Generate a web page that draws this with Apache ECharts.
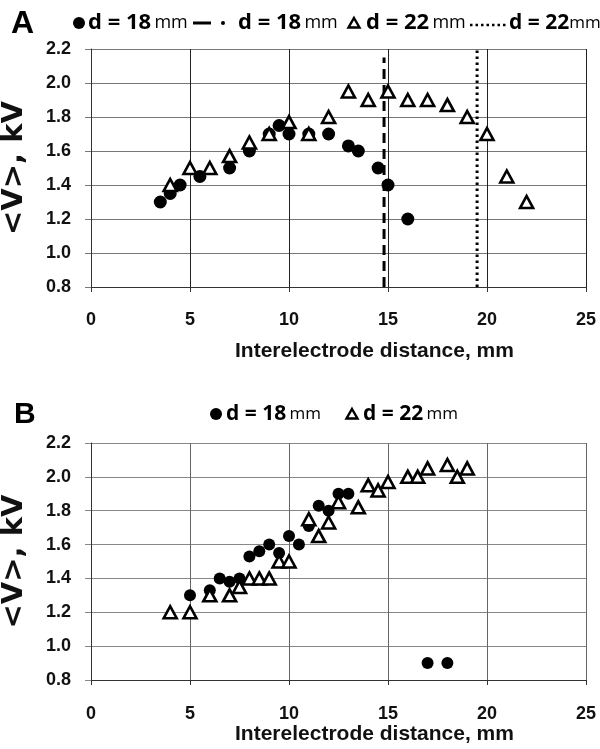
<!DOCTYPE html>
<html>
<head>
<meta charset="utf-8">
<script src="https://cdn.jsdelivr.net/npm/echarts@6/dist/echarts.min.js"></script>
<style>
  html, body { margin: 0; padding: 0; background: #fff; }
  #chart { width: 600px; height: 749px; }
</style>
</head>
<body>
<div id="chart"></div>
<script>
// panel A: voltage vs interelectrode distance
var aDist18 = [3.5, 4, 4.5, 5.5, 7, 8, 9, 9.5, 10, 11, 12, 13, 13.5, 14.5, 15, 16];
var aVolt18 = [1.30, 1.35, 1.40, 1.45, 1.50, 1.60, 1.70, 1.75, 1.70, 1.70, 1.70, 1.63, 1.60, 1.50, 1.40, 1.20];
var aDist22 = [4, 5, 6, 7, 8, 9, 10, 11, 12, 13, 14, 15, 16, 17, 18, 19, 20, 21, 22];
var aVolt22 = [1.40, 1.50, 1.50, 1.57, 1.65, 1.70, 1.77, 1.70, 1.80, 1.95, 1.90, 1.95, 1.90, 1.90, 1.87, 1.80, 1.70, 1.45, 1.30];
// vertical reference lines (electrode size)
var aLine18X = 14.8, aLine18Y = [0.8, 2.15];
var aLine22X = 19.5, aLine22Y = [0.8, 2.2];

// panel B
var bDist18 = [5, 6, 6.5, 7, 7.5, 8, 8.5, 9, 9.5, 10, 10.5, 11, 11.5, 12, 12.5, 13, 17, 18];
var bVolt18 = [1.30, 1.33, 1.40, 1.38, 1.40, 1.53, 1.56, 1.60, 1.55, 1.65, 1.60, 1.71, 1.83, 1.80, 1.90, 1.90, 0.90, 0.90];
var bDist22 = [4, 5, 6, 7, 7.5, 8, 8.5, 9, 9.5, 10, 11, 11.5, 12, 12.5, 13.5, 14, 14.5, 15, 16, 16.5, 17, 18, 18.5, 19];
var bVolt22 = [1.20, 1.20, 1.30, 1.30, 1.35, 1.40, 1.40, 1.40, 1.50, 1.50, 1.75, 1.65, 1.73, 1.85, 1.82, 1.95, 1.92, 1.97, 2.00, 2.00, 2.05, 2.07, 2.00, 2.05];

var xTicks = [0, 5, 10, 15, 20, 25];
var yTicks = [0.8, 1.0, 1.2, 1.4, 1.6, 1.8, 2.0, 2.2];

function zip(xs, ys) {
    return xs.map(function (x, i) { return [x, ys[i]]; });
}

var myChart = echarts.init(document.getElementById('chart'));

var axisFont = 'Liberation Sans';
var legFont = 'Open Sans';

var xAxisOf = function (gi, vColor, gap, labelMargin) {
    return {
        gridIndex: gi, type: 'value',
        min: xTicks[0], max: xTicks[xTicks.length - 1], interval: 5,
        axisLine: {show: true, onZero: false, lineStyle: {color: '#333', width: 1}},
        axisTick: {show: true, length: 5, lineStyle: {color: '#333'}},
        axisLabel: {margin: labelMargin, color: '#111', fontFamily: axisFont, fontWeight: 'bold', fontSize: 18},
        splitLine: {show: true, lineStyle: {color: vColor, width: 1}},
        name: 'Interelectrode distance, mm', nameLocation: 'middle', nameGap: gap,
        nameTextStyle: {color: '#111', fontFamily: axisFont, fontWeight: 'bold', fontSize: 21, padding: [0, 0, 0, 72]}
    };
};
var yAxisOf = function (gi, hColor) {
    return {
        gridIndex: gi, type: 'value',
        min: yTicks[0], max: yTicks[yTicks.length - 1], interval: 0.2,
        axisLine: {show: true, onZero: false, lineStyle: {color: '#333', width: 1}},
        axisTick: {show: true, length: 6, lineStyle: {color: hColor}},
        axisLabel: {margin: 20, color: '#111', fontFamily: axisFont, fontWeight: 'bold', fontSize: 18,
            formatter: function (v) { return v.toFixed(1); }},
        splitLine: {show: true, lineStyle: {color: hColor, width: 1}},
        name: '<V>, kV', nameLocation: 'middle', nameGap: 62, nameRotate: 90,
        nameTextStyle: {color: '#111', fontFamily: 'DejaVu Sans', fontWeight: 'bold', fontSize: 29}
    };
};

var dotStyle = {color: '#000', opacity: 1};
var triStyle = {color: '#fff', borderColor: '#000', borderWidth: 2.6, opacity: 1};

var legendText = function (x, y, num, size, sep) {
    return {
        type: 'text', x: x, y: y,
        style: {
            text: '{b|d = ' + num + '}' + sep + '{r|mm}',
            verticalAlign: 'middle',
            rich: {
                b: {fontFamily: legFont, fontWeight: 'bold', fontSize: size, fill: '#000', verticalAlign: 'middle'},
                r: {fontFamily: legFont, fontSize: size - 4, fill: '#000', verticalAlign: 'middle'}
            }
        }
    };
};
var triIcon = function (cx, cy) {
    return {type: 'polygon', shape: {points: [[cx, cy - 5], [cx + 5.5, cy + 4.5], [cx - 5.5, cy + 4.5]]},
        style: {fill: '#fff', stroke: '#000', lineWidth: 2.4}};
};

var option = {
    animation: false,
    backgroundColor: '#fff',
    grid: [
        {left: 91, right: 14, top: 49, height: 238, containLabel: false, outerBoundsMode: 'none'},
        {left: 91, right: 14, top: 443, height: 237, containLabel: false, outerBoundsMode: 'none'}
    ],
    xAxis: [xAxisOf(0, '#222', 54, 24), xAxisOf(1, '#666', 44, 25)],
    yAxis: [yAxisOf(0, '#777'), yAxisOf(1, '#888')],
    graphic: [
        {type: 'text', x: 11, y: 24, style: {text: 'A', verticalAlign: 'middle', fontFamily: axisFont, fontWeight: 'bold', fontSize: 32, fill: '#000'}},
        {type: 'circle', shape: {cx: 79, cy: 23, r: 6}, style: {fill: '#000'}},
        legendText(88, 23, 18, 22, ' '),
        {type: 'line', shape: {x1: 193, y1: 23, x2: 211, y2: 23}, style: {stroke: '#000', lineWidth: 3}},
        {type: 'circle', shape: {cx: 223, cy: 23, r: 2}, style: {fill: '#000'}},
        legendText(238, 23, 18, 22, ' '),
        triIcon(354, 23),
        legendText(366, 23, 22, 22, ' '),
        {type: 'line', shape: {x1: 470, y1: 25, x2: 508, y2: 25}, style: {stroke: '#000', lineWidth: 2.5, lineDash: [2.5, 3]}},
        legendText(509, 23, 22, 21, ''),

        {type: 'text', x: 14, y: 415, style: {text: 'B', verticalAlign: 'middle', fontFamily: axisFont, fontWeight: 'bold', fontSize: 30, fill: '#000'}},
        {type: 'circle', shape: {cx: 216, cy: 414, r: 6}, style: {fill: '#000'}},
        legendText(226, 414, 18, 21, ' '),
        triIcon(352, 414),
        legendText(363, 414, 22, 21, ' ')
    ],
    series: [
        {name: 'A d18 line', type: 'line', xAxisIndex: 0, yAxisIndex: 0, symbol: 'none', z: 3,
            data: [[aLine18X, aLine18Y[0]], [aLine18X, aLine18Y[1]]],
            lineStyle: {color: '#000', width: 3, type: [10, 6]}},
        {name: 'A d22 line', type: 'line', xAxisIndex: 0, yAxisIndex: 0, symbol: 'none', z: 3,
            data: [[aLine22X, aLine22Y[0]], [aLine22X, aLine22Y[1]]],
            lineStyle: {color: '#000', width: 3, type: [2.5, 3.5]}},
        {name: 'A d18', type: 'scatter', xAxisIndex: 0, yAxisIndex: 0, symbol: 'circle', symbolSize: 13, z: 4,
            itemStyle: dotStyle, data: zip(aDist18, aVolt18)},
        {name: 'A d22', type: 'scatter', xAxisIndex: 0, yAxisIndex: 0, symbol: 'triangle', symbolSize: [13, 12], z: 5,
            itemStyle: triStyle, data: zip(aDist22, aVolt22)},
        {name: 'B d18', type: 'scatter', xAxisIndex: 1, yAxisIndex: 1, symbol: 'circle', symbolSize: 12, z: 4,
            itemStyle: dotStyle, data: zip(bDist18, bVolt18)},
        {name: 'B d22', type: 'scatter', xAxisIndex: 1, yAxisIndex: 1, symbol: 'triangle', symbolSize: [13, 12], z: 5,
            itemStyle: triStyle, data: zip(bDist22, bVolt22)}
    ]
};
myChart.setOption(option);
</script>
</body>
</html>
